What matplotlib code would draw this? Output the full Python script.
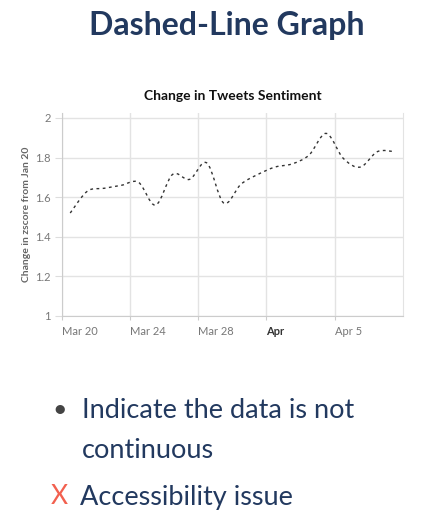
import matplotlib
matplotlib.use('Agg')
import matplotlib.pyplot as plt
import matplotlib.dates as mdates
import matplotlib.transforms as mtrans
from matplotlib.path import Path
from matplotlib.patches import PathPatch
import numpy as np
import pandas as pd

plt.rcParams['font.family'] = ['Lato', 'DejaVu Sans']

# daily values (plotted at midday)
dates = pd.date_range('2020-03-20 12:00', periods=20, freq='D')
values = [1.52, 1.63, 1.645, 1.66, 1.675, 1.56, 1.715, 1.69, 1.773, 1.57,
          1.665, 1.715, 1.752, 1.768, 1.813, 1.922, 1.796, 1.752, 1.83, 1.83]

tick_dates = pd.to_datetime(['2020-03-20', '2020-03-24', '2020-03-28', '2020-04-01', '2020-04-05'])
tick_labels = ['Mar 20', 'Mar 24', 'Mar 28', 'Apr', 'Apr 5']
y_ticks = [1, 1.2, 1.4, 1.6, 1.8, 2]
y_labels = ['1', '1.2', '1.4', '1.6', '1.8', '2']

navy = '#22395f'
W, H = 440, 517

fig = plt.figure(figsize=(W / 100, H / 100), dpi=100)
ax = fig.add_axes([61.7 / W, 1 - 316 / H, (403 - 61.7) / W, 203 / H])

# smooth spline through the points, drawn as cubic bezier segments
x = mdates.date2num(dates)
y = np.array(values)
pts = np.column_stack([x, y])
verts = [pts[0]]
codes = [Path.MOVETO]
for i in range(len(pts) - 1):
    p0 = pts[max(i - 1, 0)]
    p1 = pts[i]
    p2 = pts[i + 1]
    p3 = pts[min(i + 2, len(pts) - 1)]
    verts += [p1 + (p2 - p0) / 6, p2 - (p3 - p1) / 6, p2]
    codes += [Path.CURVE4] * 3
line = PathPatch(Path(verts, codes), fill=False, edgecolor='#333333',
                 lw=1.0, linestyle=(0, (2, 2.5)), transform=ax.transData)
ax.add_patch(line)

ax.set_xlim(mdates.date2num(pd.Timestamp('2020-03-20')), mdates.date2num(pd.Timestamp('2020-04-09')))
ax.set_ylim(1, 2.025)

ax.set_xticks(mdates.date2num(tick_dates))
ax.set_xticklabels(tick_labels)
offset = mtrans.ScaledTranslation(2 / 100, 0, fig.dpi_scale_trans)
for lbl in ax.get_xticklabels():
    lbl.set_horizontalalignment('left')
    lbl.set_color('#777777')
    lbl.set_transform(lbl.get_transform() + offset)
ax.get_xticklabels()[3].set_fontweight('bold')
ax.get_xticklabels()[3].set_color('#333333')
ax.set_yticks(y_ticks)
ax.set_yticklabels(y_labels, color='#777777')
ax.tick_params(axis='x', length=3, width=0.8, color='#cccccc', labelsize=8, pad=4)
ax.tick_params(axis='y', length=5, width=0.8, color='#dddddd', labelsize=8, pad=3)

ax.grid(True, color='#e3e3e3', lw=1)
ax.set_axisbelow(True)
ax.spines['top'].set_visible(False)
ax.spines['right'].set_color('#e3e3e3')
ax.spines['left'].set_color('#cccccc')
ax.spines['bottom'].set_color('#cccccc')

ax.set_title('Change in Tweets Sentiment', fontsize=10, fontweight='bold',
             color='#111111', pad=9)
ax.set_ylabel('Change in zscore from Jan 20', fontsize=7.5, fontweight='bold',
              color='#666666', labelpad=3)

# slide text
fig.text(227 / W, 1 - 25 / H, 'Dashed-Line Graph', fontsize=23, fontweight='bold',
         color=navy, ha='center', va='center')
fig.text(60 / W, 1 - 409 / H, '\u2022', fontsize=18, color='#444444', ha='center', va='center')
fig.text(82 / W, 1 - 410 / H, 'Indicate the data is not', fontsize=19.5, color=navy,
         ha='left', va='center')
fig.text(82 / W, 1 - 450 / H, 'continuous', fontsize=19.5, color=navy,
         ha='left', va='center')
fig.text(59 / W, 1 - 497 / H, 'X', fontsize=19, color='#f2604f', ha='center', va='center')
fig.text(80 / W, 1 - 497 / H, 'Accessibility issue', fontsize=19.5, color=navy,
         ha='left', va='center')

fig.savefig('out.png', dpi=100)
